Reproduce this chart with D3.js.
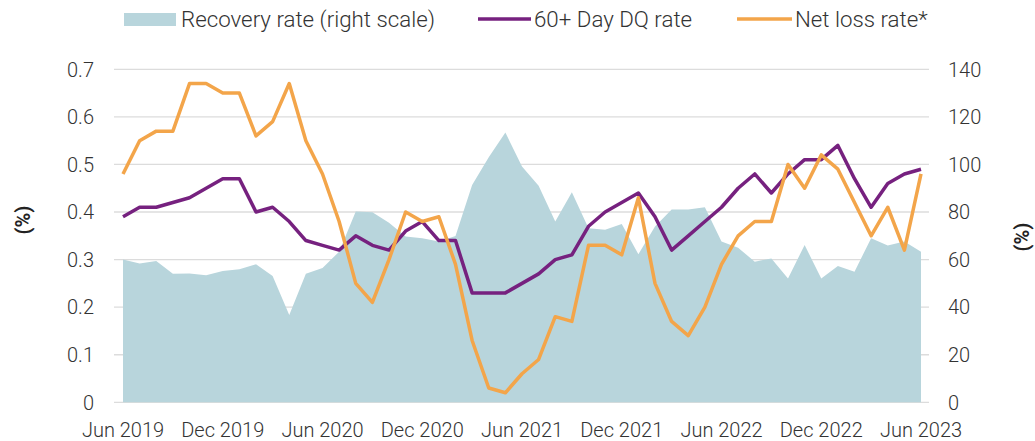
<!DOCTYPE html>
<html>
<head>
<meta charset="utf-8">
<script src="https://cdn.jsdelivr.net/npm/d3@7"></script>
<style>
  body { margin: 0; background: #fff; }
  svg text { font-family: Roboto, "Open Sans", sans-serif; font-weight: 300; fill: #333; }
</style>
</head>
<body>
<svg width="1035" height="441"></svg>
<script>
// monthly, Jun 2019 .. Jun 2023
const months = d3.timeMonth.range(new Date(2019, 5, 1), new Date(2023, 6, 1));

const dqRate = [0.39,0.41,0.41,0.42,0.43,0.45,0.47,0.47,0.40,0.41,0.38,0.34,0.33,0.32,0.35,0.33,0.32,
  0.36,0.38,0.34,0.34,0.23,0.23,0.23,0.25,0.27,0.30,0.31,0.37,0.40,0.42,0.44,0.39,0.32,0.35,0.38,0.41,
  0.45,0.48,0.44,0.48,0.51,0.51,0.54,0.47,0.41,0.46,0.48,0.49];

const netLoss = [0.48,0.55,0.57,0.57,0.67,0.67,0.65,0.65,0.56,0.59,0.67,0.55,0.48,0.38,0.25,0.21,0.30,
  0.40,0.38,0.39,0.29,0.13,0.03,0.02,0.06,0.09,0.18,0.17,0.33,0.33,0.31,0.43,0.25,0.17,0.14,0.20,0.29,
  0.35,0.38,0.38,0.50,0.45,0.52,0.49,0.42,0.35,0.41,0.32,0.48];

const recovery = [60,58.4,59.4,54,54.1,53.4,55.2,55.9,58,53.1,36.7,54,56.5,63.3,80.2,79.9,75.5,69.7,
  69,67.6,69.9,91.4,103,113.4,99.1,91,76,88.3,73.2,72.5,75,62.2,73.9,81.1,81.1,82,67.6,65,59.1,60.5,
  52.1,66.1,52.1,57.3,54.9,69,65.9,67.6,63.3];

const leftTicks = [0, 0.1, 0.2, 0.3, 0.4, 0.5, 0.6, 0.7];
const rightTicks = [0, 20, 40, 60, 80, 100, 120, 140];
const xTickLabels = ["Jun 2019", "Dec 2019", "Jun 2020", "Dec 2020", "Jun 2021",
  "Dec 2021", "Jun 2022", "Dec 2022", "Jun 2023"];

const svg = d3.select("svg");
const fmtMonth = d3.timeFormat("%b %Y");

const x = d3.scalePoint()
    .domain(months.map(fmtMonth))
    .range([123, 921]);

const yL = d3.scaleLinear().domain([0, 0.7]).range([402.3, 69.3]);
const yR = d3.scaleLinear().domain([0, 140]).range([402.3, 69.3]);

const data = months.map((m, i) => ({
    key: fmtMonth(m), dq: dqRate[i], loss: netLoss[i], rec: recovery[i]
}));

// gridlines
svg.append("g")
    .selectAll("line")
    .data(leftTicks)
    .join("line")
    .attr("x1", 114).attr("x2", 929)
    .attr("y1", d => yL(d)).attr("y2", d => yL(d))
    .attr("stroke", "#dcdcdc")
    .attr("stroke-width", 1.3);

// recovery area (right scale)
svg.append("path")
    .datum(data)
    .attr("fill", "#b8d5dc")
    .attr("d", d3.area()
        .x(d => x(d.key))
        .y0(yR(0))
        .y1(d => yR(d.rec)));

const line = acc => d3.line().x(d => x(d.key)).y(d => yL(acc(d)));

svg.append("path")
    .datum(data)
    .attr("fill", "none")
    .attr("stroke", "#76217f")
    .attr("stroke-width", 3.5)
    .attr("stroke-linejoin", "round")
    .attr("d", line(d => d.dq));

svg.append("path")
    .datum(data)
    .attr("fill", "none")
    .attr("stroke", "#f3a54a")
    .attr("stroke-width", 3.5)
    .attr("stroke-linejoin", "round")
    .attr("d", line(d => d.loss));

// left axis labels
svg.append("g")
    .selectAll("text")
    .data(leftTicks)
    .join("text")
    .attr("x", 94)
    .attr("y", d => yL(d))
    .attr("dy", "0.36em")
    .attr("text-anchor", "end")
    .style("font-size", "20px")
    .text(d => d3.format("")(d));

// right axis labels
svg.append("g")
    .selectAll("text")
    .data(rightTicks)
    .join("text")
    .attr("x", 948)
    .attr("y", d => yR(d))
    .attr("dy", "0.36em")
    .style("font-size", "20px")
    .text(d => d);

// x labels
svg.append("g")
    .selectAll("text")
    .data(xTickLabels)
    .join("text")
    .attr("x", d => x(d))
    .attr("y", 437)
    .attr("text-anchor", "middle")
    .style("font-size", "20px")
    .text(d => d);

// axis titles
svg.append("text")
    .attr("transform", "translate(30,220) rotate(-90)")
    .attr("text-anchor", "middle")
    .style("font-size", "20px")
    .style("font-weight", 700)
    .style("fill", "#222")
    .text("(%)");

svg.append("text")
    .attr("transform", "translate(1029,237) rotate(-90)")
    .attr("text-anchor", "middle")
    .style("font-size", "20px")
    .style("font-weight", 700)
    .style("fill", "#222")
    .text("(%)");

// legend
const legend = svg.append("g");
legend.append("rect")
    .attr("x", 124).attr("y", 13).attr("width", 52).attr("height", 13)
    .attr("fill", "#b8d5dc");
legend.append("text").attr("x", 181).attr("y", 27)
    .style("font-size", "22.3px").text("Recovery rate (right scale)");

legend.append("line")
    .attr("x1", 478).attr("x2", 531).attr("y1", 19).attr("y2", 19)
    .attr("stroke", "#76217f").attr("stroke-width", 3.5);
legend.append("text").attr("x", 534).attr("y", 27)
    .style("font-size", "22.3px").text("60+ Day DQ rate");

legend.append("line")
    .attr("x1", 737).attr("x2", 792).attr("y1", 19).attr("y2", 19)
    .attr("stroke", "#f3a54a").attr("stroke-width", 3.5);
legend.append("text").attr("x", 795).attr("y", 27)
    .style("font-size", "22.3px").text("Net loss rate*");
</script>
</body>
</html>
